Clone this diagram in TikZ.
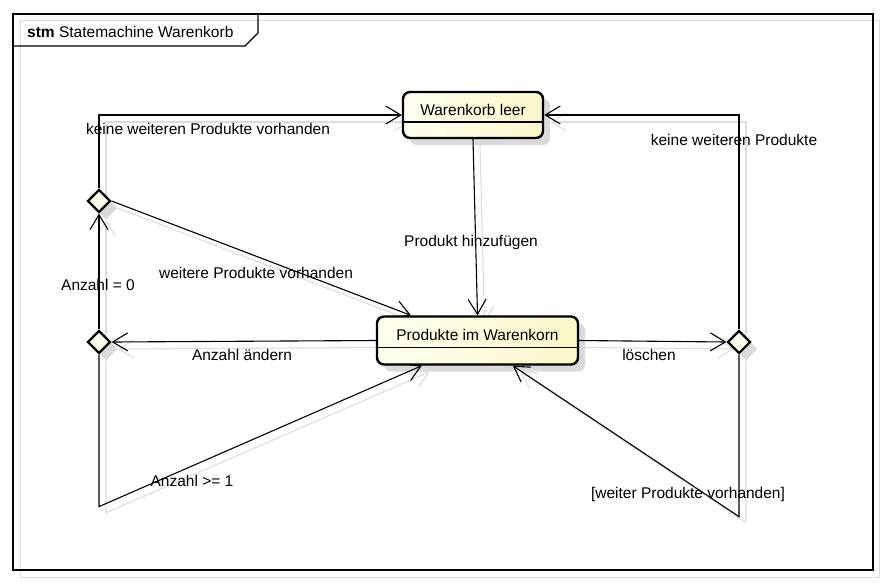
\documentclass[tikz,border=0pt]{standalone}
\usepackage{fontspec}
\setmainfont{Liberation Sans}
\usetikzlibrary{shapes.geometric,arrows.meta,calc}
\pgfdeclarelayer{shlayer}
\pgfdeclarelayer{cnlayer}
\pgfsetlayers{shlayer,cnlayer,main}
\definecolor{creamA}{RGB}{255,255,240}
\definecolor{creamB}{RGB}{250,247,200}
\definecolor{shadowC}{RGB}{218,218,218}
\definecolor{lineshadow}{RGB}{220,220,220}
\tikzset{
  every node/.style={font=\fontsize{15.5}{18}\selectfont},
  statebox/.style={rectangle, rounded corners=7pt, line width=2.4pt, draw=black,
    left color=creamA, right color=creamB, minimum width=#1, minimum height=46pt, inner sep=0pt},
  stateshadow/.style={rectangle, rounded corners=7pt, fill=shadowC, draw=none,
    minimum width=#1, minimum height=46pt, inner sep=0pt},
  decision/.style={diamond, aspect=1, minimum width=23pt, minimum height=23pt, inner sep=0pt,
    draw=black, line width=2.2pt, fill=creamA},
  decisionshadow/.style={diamond, aspect=1, minimum width=23pt, minimum height=23pt, inner sep=0pt,
    fill=shadowC, draw=none},
  conn/.style={draw=black, line width=1.1pt, -{Straight Barb[length=15pt,width=18pt]}},
  connshadow/.style={draw=lineshadow, line width=1.1pt, -{Straight Barb[length=15pt,width=18pt]}},
  lbl/.style={anchor=base, inner sep=0pt},
}
\newcommand\allconns[2]{%
  \draw[#2] (l#1.south) -- (p#1.north);
  \draw[#2] (d1#1.north) |- (l#1.west);
  \draw[#2] (d1#1.east) -- ($(p#1.north west)+(35,0)$);
  \draw[#2] (d2#1.north) -- (d1#1.south);
  \draw[#2] (p#1.west) -- (d2#1.east);
  \draw[#2] (d2#1.south) -- ++(0,152) -- ($(p#1.south west)+(46,0)$);
  \draw[#2] (p#1.east) -- (d3#1.west);
  \draw[#2] (d3#1.north) |- (l#1.east);
  \draw[#2] (d3#1.south) -- ++(0,162) -- ($(p#1.south west)+(137,0)$);
}
\begin{document}
\begin{tikzpicture}[x=1pt,y=-1pt]
\useasboundingbox (0,0) rectangle (885,584);
\begin{pgfonlayer}{shlayer}
% frame
\draw[lineshadow, line width=1pt] (20,20) rectangle (879,577);
\draw[line width=1.3pt] (13,14) rectangle (873,570);
\draw[line width=1.3pt] (13,46) -- (245,46) -- (258,33) -- (258,14);
% shadows of nodes
\node[stateshadow=140pt] (ls) at (480,122) {};
\node[stateshadow=201pt, minimum height=48pt] (ps) at (484.5,347.5) {};
\node[decisionshadow] (d1s) at (106,208) {};
\node[decisionshadow] (d2s) at (106,349) {};
\node[decisionshadow] (d3s) at (746,349) {};
\end{pgfonlayer}
\node[anchor=base west, inner sep=0pt] (title) at (27,37) {\textbf{stm} Statemachine Warenkorb};
% nodes
\node[statebox=140pt] (l) at (473,115) {};
\node[statebox=201pt, minimum height=48pt] (p) at (477.5,340.5) {};
\node[decision] (d1) at (99,201) {};
\node[decision] (d2) at (99,342) {};
\node[decision] (d3) at (739,342) {};
\draw[line width=1.1pt] ($(l.west)+(0,7)$) -- ($(l.east)+(0,7)$);
\draw[line width=1.1pt] ($(p.west)+(0,7)$) -- ($(p.east)+(0,7)$);
\node[lbl] (lt) at (473,115) {Warenkorb leer};
\node[lbl] (pt) at (477.5,340) {Produkte im Warenkorn};
% connectors
\begin{pgfonlayer}{cnlayer}
\allconns{s}{connshadow}
\allconns{}{conn}
\end{pgfonlayer}
% labels
\node[lbl] (t1) at (208,134) {keine weiteren Produkte vorhanden};
\node[lbl] (t2) at (471,246) {Produkt hinzufügen};
\node[lbl] (t3) at (256,278) {weitere Produkte vorhanden};
\node[lbl] (t4) at (98,290) {Anzahl = 0};
\node[lbl] (t5) at (242,360) {Anzahl ändern};
\node[lbl] (t6) at (649,360) {löschen};
\node[lbl] (t7) at (734,145) {keine weiteren Produkte};
\node[lbl] (t8) at (192,486) {Anzahl >= 1};
\node[lbl] (t9) at (688,498) {[weiter Produkte vorhanden]};
\end{tikzpicture}
\end{document}
